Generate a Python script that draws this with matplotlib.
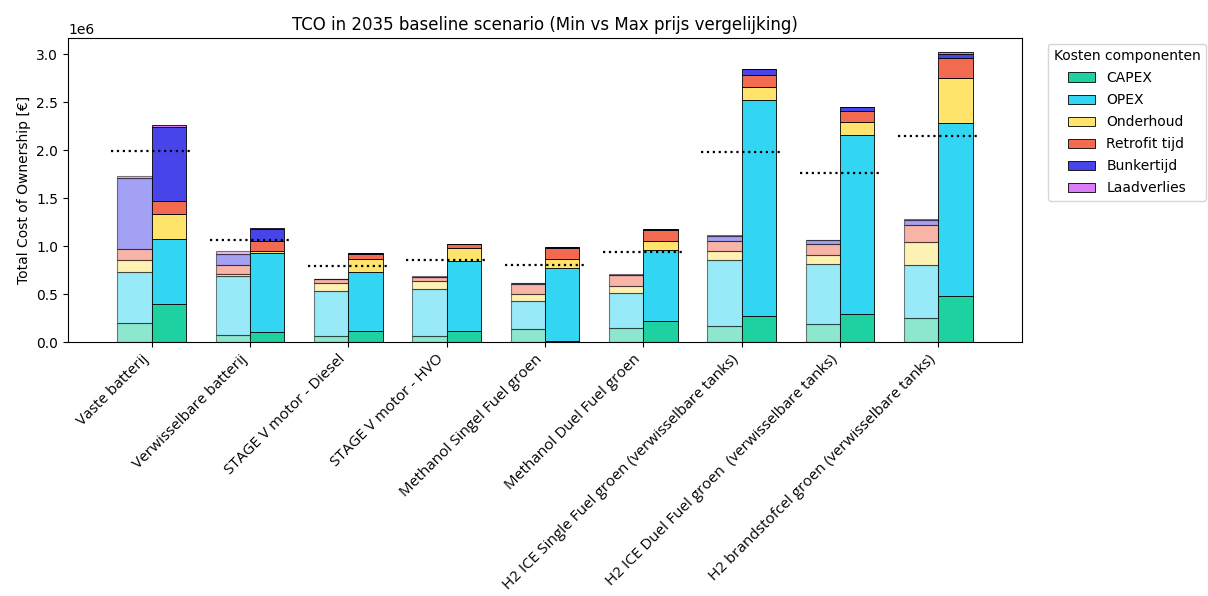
import matplotlib
matplotlib.use("Agg")
import matplotlib.pyplot as plt
import numpy as np

categories = [
    "Vaste batterij",
    "Verwisselbare batterij",
    "STAGE V motor - Diesel",
    "STAGE V motor - HVO",
    "Methanol Singel Fuel groen",
    "Methanol Duel Fuel groen",
    "H2 ICE Single Fuel groen (verwisselbare tanks)",
    "H2 ICE Duel Fuel groen  (verwisselbare tanks)",
    "H2 brandstofcel groen (verwisselbare tanks)",
]
components = ["CAPEX", "OPEX", "Onderhoud", "Retrofit tijd", "Bunkertijd", "Laadverlies"]

# Min price scenario (values in euro)
min_capex = [200000, 73000, 62000, 62000, 132000, 142000, 170000, 184000, 247000]
min_opex = [536000, 621000, 469000, 497000, 295000, 368000, 684000, 635000, 555000]
min_onderhoud = [125000, 21000, 84000, 83000, 76000, 80000, 94000, 94000, 247000]
min_retrofit = [111000, 94000, 38000, 42000, 105000, 108000, 111000, 108000, 177000]
min_bunkertijd = [736000, 115000, 0, 0, 10000, 0, 49000, 49000, 45000]
min_laadverlies = [21000, 21000, 10000, 10000, 0, 10000, 10000, 0, 9000]

# Max price scenario (values in euro)
max_capex = [393000, 108000, 115000, 115000, 14000, 219000, 271000, 292000, 479000]
max_opex = [680000, 822000, 621000, 729000, 764000, 739000, 2257000, 1864000, 1802000]
max_onderhoud = [267000, 25000, 132000, 135000, 90000, 101000, 135000, 136000, 472000]
max_retrofit = [136000, 104000, 56000, 49000, 111000, 108000, 122000, 121000, 208000]
max_bunkertijd = [771000, 118000, 8000, 0, 11000, 10000, 59000, 42000, 46000]
max_laadverlies = [21000, 17000, 0, 0, 0, 0, 0, 0, 17000]

# Reference (dotted) values
reference = [1997000, 1070000, 795000, 861000, 802000, 941000, 1979000, 1764000, 2146000]

colors = ["#1dd1a1", "#32d6f2", "#fee46b", "#f26a4f", "#4745ea", "#d97cf5"]

min_data = [min_capex, min_opex, min_onderhoud, min_retrofit, min_bunkertijd, min_laadverlies]
max_data = [max_capex, max_opex, max_onderhoud, max_retrofit, max_bunkertijd, max_laadverlies]

fig = plt.figure(figsize=(12.08, 5.96), dpi=100)
ax = fig.add_axes([0.0563, 0.426, 0.7897, 0.51])

x = np.arange(len(categories))
w = 0.35

bottom = np.zeros(len(categories))
for vals, c in zip(min_data, colors):
    vals = np.array(vals, dtype=float)
    ax.bar(x - w / 2, vals, w, bottom=bottom, color=c, alpha=0.5,
           edgecolor="black", linewidth=0.8)
    bottom += vals

bottom = np.zeros(len(categories))
for vals, c, lab in zip(max_data, colors, components):
    vals = np.array(vals, dtype=float)
    ax.bar(x + w / 2, vals, w, bottom=bottom, color=c, label=lab,
           edgecolor="black", linewidth=0.6)
    bottom += vals

for i, r in enumerate(reference):
    ax.plot([x[i] - 0.41, x[i] + 0.41], [r, r], color="black",
            linestyle=":", linewidth=1.6)

ax.set_xticks(x)
ax.set_xticklabels(categories, rotation=45, ha="right",
                   fontfamily="Open Sans", fontsize=11)
ax.set_ylabel("Total Cost of Ownership [€]")
ax.set_title("TCO in 2035 baseline scenario (Min vs Max prijs vergelijking)", fontsize=12)
ax.set_ylim(0, 3.17e6)
ax.legend(title="Kosten componenten", bbox_to_anchor=(1.02, 1.005), loc="upper left",
          fontsize=10, title_fontsize=10, labelspacing=0.58)

fig.savefig("out.png", dpi=100)
